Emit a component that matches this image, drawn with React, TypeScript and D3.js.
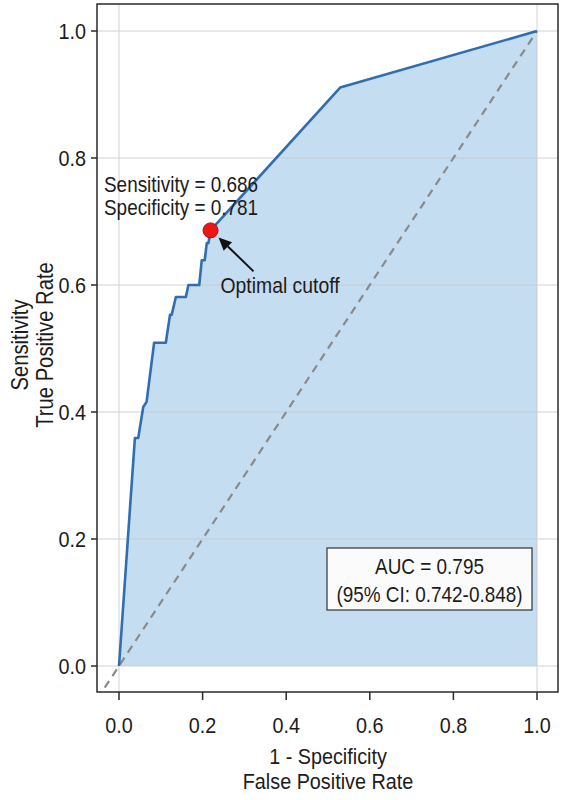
import React from "react";
import * as d3 from "d3";

// ROC curve vertices: false positive rate (1 - specificity) and true positive rate
const fpr = [0, 0.038, 0.046, 0.058, 0.066, 0.084, 0.112, 0.122, 0.126, 0.136, 0.16, 0.166, 0.192, 0.198, 0.205, 0.21, 0.214, 0.219, 0.529, 1];
const tpr = [0, 0.359, 0.359, 0.408, 0.416, 0.509, 0.509, 0.553, 0.553, 0.581, 0.581, 0.6, 0.6, 0.639, 0.639, 0.666, 0.666, 0.686, 0.911, 1];

// Optimal cutoff
const cutSensitivity = 0.686;
const cutSpecificity = 0.781;

// AUC summary
const aucValue = "0.795";
const aucCI = ["0.742", "0.848"];

const tickValues = [0, 0.2, 0.4, 0.6, 0.8, 1.0];
const xGridValues = [0, 1];

const W = 566;
const H = 800;
const FONT = "'Liberation Sans', Arial, Helvetica, sans-serif";
const INK = "#1c1c1c";
const SQUEEZE = 0.88;

// Text drawn slightly condensed, like a narrow Helvetica
function T({
  x,
  y,
  size,
  anchor = "start",
  rotate = 0,
  children,
}: {
  x: number;
  y: number;
  size: number;
  anchor?: "start" | "middle" | "end";
  rotate?: number;
  children: React.ReactNode;
}) {
  return (
    <text
      transform={`translate(${x},${y}) rotate(${rotate}) scale(${SQUEEZE},1)`}
      fontSize={size}
      textAnchor={anchor}
      fill={INK}
      fontFamily={FONT}
    >
      {children}
    </text>
  );
}

export default function App() {
  const frame = { left: 97, right: 558, top: 4, bottom: 692 };
  const x = d3.scaleLinear().domain([0, 1]).range([119, 537]);
  const y = d3.scaleLinear().domain([0, 1]).range([666, 31]);

  const pts: [number, number][] = fpr.map((f, i) => [f, tpr[i]]);
  const line = d3.line<[number, number]>().x((d) => x(d[0])).y((d) => y(d[1]));
  const area = d3
    .area<[number, number]>()
    .x((d) => x(d[0]))
    .y0(y(0))
    .y1((d) => y(d[1]));

  const dx = x.invert(frame.left);
  const cx = x(1 - cutSpecificity);
  const cy = y(cutSensitivity);

  const tip: [number, number] = [cx + 8, cy + 7];
  const tail: [number, number] = [cx + 43, cy + 41];
  const ang = Math.atan2(tip[1] - tail[1], tip[0] - tail[0]);
  const hl = 13;
  const hw = 6;
  const bx = tip[0] - hl * Math.cos(ang);
  const by = tip[1] - hl * Math.sin(ang);
  const head = [
    [tip[0], tip[1]],
    [bx + hw * Math.sin(ang), by - hw * Math.cos(ang)],
    [bx - hw * Math.sin(ang), by + hw * Math.cos(ang)],
  ]
    .map((p) => p.join(","))
    .join(" ");

  return (
    <svg
      width={W}
      height={H}
      viewBox={`0 0 ${W} ${H}`}
      style={{ position: "absolute", left: 0, top: 0, background: "#ffffff" }}
      fontFamily={FONT}
    >
      <defs>
        <clipPath id="plotClip">
          <rect x={frame.left} y={frame.top} width={frame.right - frame.left} height={frame.bottom - frame.top} />
        </clipPath>
      </defs>

      {/* area under the curve */}
      <path d={area(pts) ?? ""} fill="#c5ddf1" />

      {/* grid */}
      <g stroke="#c8c8c8" strokeWidth={1} opacity={0.8}>
        {tickValues.map((t) => (
          <line key={"gy" + t} x1={frame.left} x2={frame.right} y1={y(t)} y2={y(t)} />
        ))}
        {xGridValues.map((t) => (
          <line key={"gx" + t} x1={x(t)} x2={x(t)} y1={frame.top} y2={frame.bottom} />
        ))}
      </g>

      {/* chance diagonal */}
      <g clipPath="url(#plotClip)">
        <line
          x1={x(dx)}
          y1={y(dx)}
          x2={x(1)}
          y2={y(1)}
          stroke="#8a8a8a"
          strokeWidth={2.2}
          strokeDasharray="8,6"
        />
      </g>

      {/* ROC curve */}
      <path d={line(pts) ?? ""} fill="none" stroke="#2f6eb1" strokeWidth={2.6} strokeLinejoin="round" />

      {/* frame */}
      <rect
        x={frame.left}
        y={frame.top}
        width={frame.right - frame.left}
        height={frame.bottom - frame.top}
        fill="none"
        stroke="#2a2a2a"
        strokeWidth={1.5}
      />

      {/* y axis */}
      {tickValues.map((t) => (
        <g key={"yt" + t}>
          <line x1={frame.left - 6} x2={frame.left} y1={y(t)} y2={y(t)} stroke="#2a2a2a" strokeWidth={1.5} />
          <T x={86} y={y(t) + 8} size={22.5} anchor="end">
            {t.toFixed(1)}
          </T>
        </g>
      ))}

      {/* x axis */}
      {tickValues.map((t) => (
        <g key={"xt" + t}>
          <line x1={x(t)} x2={x(t)} y1={frame.bottom} y2={frame.bottom + 8} stroke="#2a2a2a" strokeWidth={1.5} />
          <T x={x(t)} y={733} size={22.5} anchor="middle">
            {t.toFixed(1)}
          </T>
        </g>
      ))}

      {/* axis titles */}
      <T x={328} y={764} size={22.5} anchor="middle">1 - Specificity</T>
      <T x={328} y={789} size={22.5} anchor="middle">False Positive Rate</T>
      <T x={28} y={345} size={23} anchor="middle" rotate={-90}>Sensitivity</T>
      <T x={53} y={345} size={23} anchor="middle" rotate={-90}>True Positive Rate</T>

      {/* optimal cutoff annotation */}
      <T x={104} y={192} size={21.5}>{`Sensitivity = ${cutSensitivity.toFixed(3)}`}</T>
      <T x={104} y={215} size={21.5}>{`Specificity = ${cutSpecificity.toFixed(3)}`}</T>
      <line x1={tail[0]} y1={tail[1]} x2={bx} y2={by} stroke="#111" strokeWidth={2} />
      <polygon points={head} fill="#111" />
      <T x={cx + 10} y={cy + 63} size={22}>Optimal cutoff</T>
      <circle cx={cx} cy={cy} r={7.5} fill="#ee1515" stroke="#a80f0f" strokeWidth={1} />

      {/* AUC box */}
      <rect x={327} y={548} width={205} height={62} fill="#fbfbfb" stroke="#333" strokeWidth={1.2} />
      <T x={429.5} y={574} size={21.5} anchor="middle">{`AUC = ${aucValue}`}</T>
      <T x={429.5} y={602} size={21.5} anchor="middle">{`(95% CI: ${aucCI[0]}-${aucCI[1]})`}</T>
    </svg>
  );
}
